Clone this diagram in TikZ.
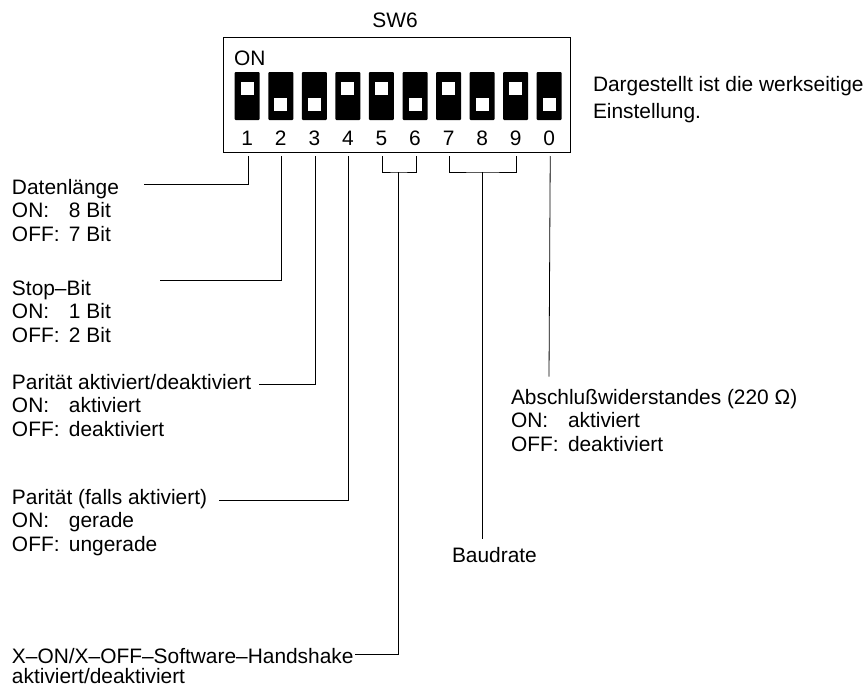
\documentclass[tikz,border=0pt]{standalone}
\usepackage{fontspec}
\setmainfont{Liberation Sans}
\newcommand{\onkey}[1]{\makebox[57pt][l]{#1}}

\tikzset{
  every node/.style = {inner sep = 0pt, outer sep = 0pt},
  label/.style = {font = \fontsize{20.9}{23.7}\selectfont},
  legend/.style = {label, anchor = north west, align = left},
  body/.style = {fill = black, rounded corners = 1pt, minimum width = 25pt, minimum height = 48pt},
  knob/.style = {fill = white, minimum width = 13pt, minimum height = 13pt}
}

\begin{document}
\begin{tikzpicture}[x = 1pt, y = -1pt, line width = 0.8pt]
\useasboundingbox (0,0) rectangle (867,688);
\draw[fill = white] (223.5,37) rectangle (570,152);
\draw (395,20) node[label](title){SW6}
    (234,58) node[label, anchor = west](on){ON};
% the ten switches: number / knob height
\foreach \n/\i/\h in {1/0/88.5, 2/1/104, 3/2/104, 4/3/88.5, 5/4/88.5, 6/5/104, 7/6/88.5, 8/7/104, 9/8/88.5, 0/9/104} {
    \pgfmathsetmacro{\xs}{247.2 + 33.56*\i}
    \draw (\xs,96) node[body](s\n){}
        (\xs,\h) node[knob](k\n){}
        (\xs,138.5) node[label](n\n){\n};
    \coordinate (p\n) at (\xs + 1,156);
}
\coordinate (e1) at (144,184.7);
\coordinate (e2) at (160,280);
\coordinate (e3) at (259,384.7);
\coordinate (e4) at (219,500);
\coordinate (b56) at (398.3,172);
\coordinate (b79) at (482.5,172);
\coordinate (e56) at (355,654);
\coordinate (e79) at (482.5,539);
\coordinate (e0) at (549,376.7);
\draw (p1) |- (e1);
\draw (p2) |- (e2);
\draw (p3) |- (e3);
\draw (p4) |- (e4);
\draw (p5) |- (b56) -| (p6);
\draw (p7) |- (b79) -| (p9);
\draw (b56) |- (e56);
\draw (b79) -- (e79);
\draw (p0) -- (e0);
\draw (12,179) node[legend](data){Datenlänge\\\onkey{ON:}8 Bit\\\onkey{OFF:}7 Bit}
    (12,280) node[legend](stop){Stop--Bit\\\onkey{ON:}1 Bit\\\onkey{OFF:}2 Bit}
    (12,374) node[legend](par){Parität aktiviert/deaktiviert\\\onkey{ON:}aktiviert\\\onkey{OFF:}deaktiviert}
    (12,489) node[legend](fall){Parität (falls aktiviert)\\\onkey{ON:}gerade\\\onkey{OFF:}ungerade}
    (12,648.5) node[legend](shake){X--ON/X--OFF--Software--Handshake\\[-4pt]aktiviert/deaktiviert}
    (452,547) node[legend](baud){Baudrate}
    (511,389) node[legend](term){Abschlußwiderstandes (220 Ω)\\\onkey{ON:}aktiviert\\\onkey{OFF:}deaktiviert}
    (593,76) node[legend](note){Dargestellt ist die werkseitige\\[3.5pt]Einstellung.};
\end{tikzpicture}
\end{document}
